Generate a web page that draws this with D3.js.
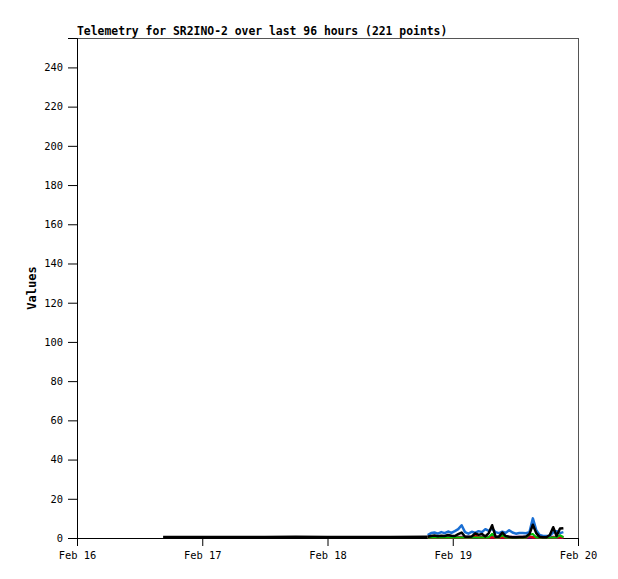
<!doctype html>
<html>
<head>
<script src="https://cdnjs.cloudflare.com/ajax/libs/d3/7.8.5/d3.min.js"></script>
<style>
body { margin: 0; background: #fff; }
svg text { font-family: "DejaVu Sans Mono", "Liberation Mono", monospace; }
</style>
</head>
<body>
<svg id="chart" width="618" height="579"></svg>
<script>
// hours since Feb 16 00:00
var xTickLabels = ["Feb 16", "Feb 17", "Feb 18", "Feb 19", "Feb 20"];
var yTicks = [0, 20, 40, 60, 80, 100, 120, 140, 160, 180, 200, 220, 240];

var idleHours = [16.5, 24, 36, 41.9, 48, 60, 67.2];
var idleBlack = [0.5, 0.5, 0.5, 0.6, 0.5, 0.5, 0.6];

var hours = [67.2, 67.85, 68.5, 69.15, 69.8, 70.45, 71.1, 71.75, 72.4, 73.05,
  73.7, 74.35, 75.0, 75.65, 76.3, 76.95, 77.6, 78.25, 78.9, 79.55,
  80.2, 80.85, 81.5, 82.15, 82.8, 83.45, 84.1, 84.75, 85.4, 86.05,
  86.7, 87.35, 88.0, 88.65, 89.3, 89.95, 90.6, 91.25, 91.9, 92.55, 93.2];

var blue = [1.5, 2.5, 2.8, 2.2, 3.0, 2.5, 3.3, 2.6, 3.5, 4.5,
  6.5, 3.0, 2.2, 3.2, 2.6, 3.5, 3.0, 4.5, 3.6, 4.8,
  3.0, 2.5, 3.2, 2.6, 4.0, 2.8, 2.2, 2.5, 2.5, 2.4,
  3.0, 10.0, 4.0, 1.5, 1.0, 1.0, 1.2, 2.8, 3.5, 2.5, 3.0];

var black = [0.6, 1.0, 1.3, 0.9, 1.2, 1.0, 1.5, 1.2, 1.0, 2.0,
  2.8, 0.6, 0.6, 0.8, 2.4, 1.6, 2.0, 0.8, 2.5, 6.5,
  0.7, 0.7, 2.8, 1.0, 0.6, 0.4, 0.4, 0.5, 0.5, 0.8,
  2.0, 6.8, 2.5, 0.6, 0.4, 0.4, 1.5, 5.5, 1.0, 4.8, 5.0];

var green = [0.3, 0.3, 0.3, 0.3, 0.3, 0.3, 0.3, 0.3, 0.3, 0.3,
  0.3, 0.3, 0.3, 0.3, 0.3, 0.3, 0.3, 0.3, 0.3, 2.2,
  0.3, 0.3, 1.5, 0.3, 0.3, 0.3, 0.3, 0.3, 0.3, 0.3,
  1.8, 2.0, 0.3, 0.3, 0.3, 0.3, 0.3, 0.3, 0.3, 1.5, 0.3];

var red = [0.2, 0.2, 0.2, 0.2, 0.2, 0.2, 0.2, 0.2, 0.2, 0.2,
  0.2, 0.2, 0.2, 0.2, 1.5, 0.2, 0.2, 0.2, 0.2, 0.2,
  0.2, 0.2, 0.2, 0.2, 0.2, 0.2, 0.2, 0.2, 0.2, 0.2,
  1.0, 0.2, 0.2, 0.2, 0.2, 0.2, 0.2, 0.2, 0.2, 0.2, 0.2];

var purple = [0.4, 0.4, 0.4, 0.4, 0.4, 0.4, 0.4, 0.4, 0.4, 0.4,
  0.4, 0.4, 0.4, 0.4, 0.4, 0.4, 0.4, 0.4, 0.4, 0.4,
  0.4, 0.4, 0.4, 0.4, 0.4, 0.4, 0.4, 0.4, 0.4, 0.4,
  0.4, 0.4, 0.4, 0.4, 0.4, 0.4, 0.4, 0.4, 0.4, 0.4, 0.4];

var margin = {top: 38, right: 40, bottom: 41, left: 77};
var width = 618 - margin.left - margin.right;
var height = 579 - margin.top - margin.bottom;

var svg = d3.select("#chart");
var g = svg.append("g").attr("transform", "translate(" + margin.left + "," + margin.top + ")");

var x = d3.scaleLinear().domain([0, 96]).range([0, width]);
var y = d3.scaleLinear().domain([0, 255]).range([height, 0]);

// frame
g.append("rect")
  .attr("x", 0.5).attr("y", 0.5)
  .attr("width", width).attr("height", height)
  .attr("fill", "none").attr("stroke", "#555");

var xAxis = g.append("g")
  .attr("transform", "translate(0," + height + ")")
  .call(d3.axisBottom(x).tickValues([0, 24, 48, 72, 96])
    .tickFormat((d, i) => xTickLabels[i]).tickSize(8).tickPadding(6));

var yAxis = g.append("g")
  .call(d3.axisLeft(y).tickValues(yTicks).tickSize(9).tickPadding(5));

[xAxis, yAxis].forEach(a => {
  a.select(".domain").attr("stroke", "#000");
  a.selectAll("line").attr("stroke", "#000");
  a.selectAll("text").attr("font-family", "DejaVu Sans Mono, monospace")
    .attr("font-size", 10.4).attr("fill", "#000");
});

var line = d3.line()
  .x(d => x(d[0]))
  .y(d => y(d[1]));

function pts(vals) { return hours.map((h, i) => [h, vals[i]]); }

var series = [
  {vals: purple, color: "#800080", w: 3},
  {vals: red, color: "#e00000", w: 2},
  {vals: green, color: "#00c000", w: 2},
  {vals: blue, color: "#1a6fd4", w: 2.5},
  {vals: black, color: "#000000", w: 2.5}
];

g.append("path")
  .datum(idleHours.map((h, i) => [h, idleBlack[i]]))
  .attr("fill", "none").attr("stroke", "#000").attr("stroke-width", 2.5)
  .attr("d", line);

g.selectAll(".series")
  .data(series)
  .enter().append("path")
  .attr("class", "series")
  .attr("fill", "none")
  .attr("stroke", d => d.color)
  .attr("stroke-width", d => d.w)
  .attr("stroke-linejoin", "round")
  .attr("d", d => line(pts(d.vals)));

svg.append("text")
  .attr("x", margin.left).attr("y", 35)
  .attr("font-size", 11.4).attr("font-weight", "bold")
  .text("Telemetry for SR2INO-2 over last 96 hours (221 points)");

svg.append("text")
  .attr("transform", "translate(36," + (margin.top + height / 2) + ") rotate(-90)")
  .attr("text-anchor", "middle")
  .attr("font-size", 12).attr("font-weight", "bold")
  .text("Values");
</script>
</body>
</html>
